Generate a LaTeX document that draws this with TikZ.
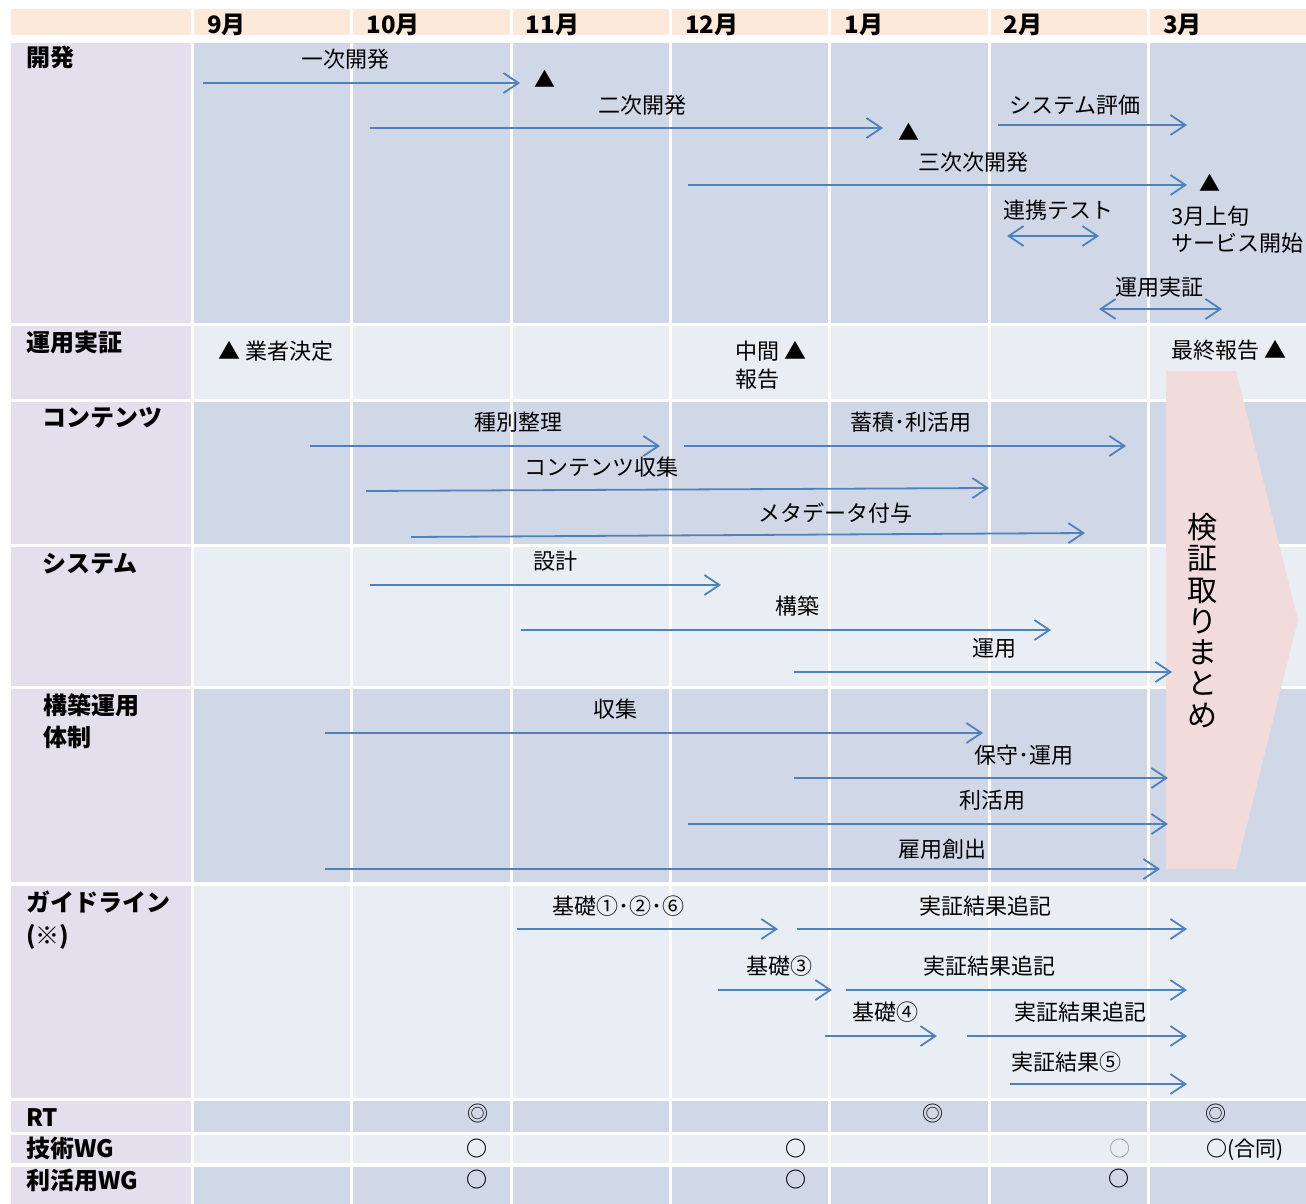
\documentclass[tikz,border=0pt]{standalone}
\usepackage{fontspec}
\setmainfont{Noto Sans CJK JP}
\usetikzlibrary{arrows.meta}
\definecolor{hdr}{HTML}{FDE9D9}
\definecolor{lab}{HTML}{E4DFEC}
\definecolor{dk}{HTML}{D0D8E8}
\definecolor{lt}{HTML}{E9EDF4}
\definecolor{pk}{HTML}{F2DCDB}
\definecolor{bl}{HTML}{4F81BD}
\begin{document}
\begin{tikzpicture}[x=1pt,y=-1pt,
  bar/.style={draw=bl, line width=1.8pt, -{Straight Barb[length=15pt,width=20pt]}},
  dbar/.style={draw=bl, line width=1.8pt, {Straight Barb[length=15pt,width=20pt]}-{Straight Barb[length=15pt,width=20pt]}},
  txt/.style={inner sep=0pt, text height=19.4pt, text depth=2.6pt, font=\fontsize{22}{26}\selectfont},
  lbl/.style={inner sep=0pt, anchor=west, text height=21.1pt, text depth=2.9pt, font=\fontsize{24}{28}\selectfont\bfseries},
  sym/.style={inner sep=0pt, text height=18.5pt, text depth=2.5pt, font=\fontsize{21}{24}\selectfont},
  vt/.style={inner sep=0pt, text height=26.4pt, text depth=3.6pt, font=\fontsize{30}{32}\selectfont}
]
\useasboundingbox (0,0) rectangle (1306,1204);
\fill[white] (0,0) rectangle (1306,1204);
% header
\fill[hdr] (11,9) rectangle (191,35);
\foreach \i in {0,...,6} {
  \pgfmathsetmacro\xa{194+159.3*\i}
  \pgfmathsetmacro\xb{\xa+156.3}
  \fill[hdr] (\xa,9) rectangle (\xb,35);
}
% rows
\foreach \ya/\yb/\c in {43/323/dk,326/399/lt,402/544/dk,547/686/lt,689/882/dk,886/1098/lt,1101/1132/dk,1135/1163/lt,1167/1204/dk} {
  \fill[lab] (11,\ya) rectangle (191,\yb);
  \foreach \i in {0,...,6} {
    \pgfmathsetmacro\xa{194+159.3*\i}
    \pgfmathsetmacro\xb{\xa+156.3}
    \fill[\c] (\xa,\ya) rectangle (\xb,\yb);
  }
}
% pink summary shape
\fill[pk] (1166,371) -- (1236,371) -- (1298,620) -- (1236,869) -- (1166,869) -- cycle;
\foreach \ch [count=\i from 0] in {検,証,取,り,ま,と,め}
  \node[vt] (v\i) at (1202,527+31.3*\i) {\ch};

% header texts
\foreach \m [count=\i from 0] in {9月,10月,11月,12月,1月,2月,3月}
  \node[lbl] (h\i) at (207+159.3*\i,24) {\m};

% row labels
\node[lbl] (r1) at (26,57) {開発};
\node[lbl] (r2) at (26,342) {運用実証};
\node[lbl] (r3) at (42,417) {コンテンツ};
\node[lbl] (r4) at (42,563) {システム};
\node[lbl] (r5a) at (43,705) {構築運用};
\node[lbl] (r5b) at (43,737) {体制};
\node[lbl] (r6a) at (26,902) {ガイドライン};
\node[lbl] (r6b) at (26,935) {(※)};
\node[lbl] (r7) at (26,1117) {RT};
\node[lbl] (r8) at (26,1148) {技術WG};
\node[lbl] (r9) at (26,1180) {利活用WG};

% 開発
\draw[bar] (203,83) -- (520,83);
\node[txt] (t1) at (345,59) {一次開発};
\node[sym] (m1) at (545,80) {▲};
\draw[bar] (370,128) -- (883,128);
\node[txt] (t2) at (642,105) {二次開発};
\node[sym] (m2) at (909,132) {▲};
\draw[bar] (998,125) -- (1187,125);
\node[txt] (t3) at (1075,105) {システム評価};
\draw[bar] (688,185) -- (1187,185);
\node[txt] (t4) at (973,162) {三次次開発};
\node[sym] (m3) at (1210,183) {▲};
\draw[dbar] (1007,236) -- (1099,236);
\node[txt] (t5) at (1058,210) {連携テスト};
\node[txt,anchor=west] (t6a) at (1171,216) {3月上旬};
\node[txt,anchor=west] (t6b) at (1171,243) {サービス開始};
\draw[dbar] (1099,309) -- (1222,309);
\node[txt] (t7) at (1159,287) {運用実証};

% 運用実証
\node[txt,anchor=west] (u1) at (218,351) {▲ 業者決定};
\node[txt,anchor=west] (u2a) at (735,351) {中間 ▲};
\node[txt,anchor=west] (u2b) at (735,379) {報告};
\node[txt,anchor=west] (u3) at (1171,350) {最終報告 ▲};

% コンテンツ
\draw[bar] (310,446) -- (660,446);
\node[txt] (c1) at (518,422) {種別整理};
\draw[bar] (684,446) -- (1126,446);
\node[txt] (c2) at (911,422) {蓄積･利活用};
\draw[bar] (366,491) -- (989,488);
\node[txt] (c3) at (601,467) {コンテンツ収集};
\draw[bar] (411,537) -- (1085,533);
\node[txt] (c4) at (835,513) {メタデータ付与};

% システム
\draw[bar] (370,585) -- (721,585);
\node[txt] (s1) at (555,561) {設計};
\draw[bar] (521,630) -- (1051,630);
\node[txt] (s2) at (797,606) {構築};
\draw[bar] (794,672) -- (1172,672);
\node[txt] (s3) at (994,648) {運用};

% 構築運用体制
\draw[bar] (325,733) -- (983,733);
\node[txt] (k1) at (615,709) {収集};
\draw[bar] (794,778) -- (1168,778);
\node[txt] (k2) at (1024,755) {保守･運用};
\draw[bar] (688,824) -- (1168,824);
\node[txt] (k3) at (992,800) {利活用};
\draw[bar] (325,869) -- (1160,869);
\node[txt] (k4) at (942,849) {雇用創出};

% ガイドライン
\draw[bar] (517,929) -- (778,929);
\node[txt] (g1) at (618,906) {基礎①･②･⑥};
\draw[bar] (797,929) -- (1187,929);
\node[txt] (g2) at (985,906) {実証結果追記};
\draw[bar] (718,990) -- (832,990);
\node[txt] (g3) at (779,966) {基礎③};
\draw[bar] (846,990) -- (1187,990);
\node[txt] (g4) at (989,966) {実証結果追記};
\draw[bar] (825,1036) -- (937,1036);
\node[txt] (g5) at (885,1012) {基礎④};
\draw[bar] (967,1036) -- (1187,1036);
\node[txt] (g6) at (1080,1012) {実証結果追記};
\draw[bar] (1010,1084) -- (1187,1084);
\node[txt] (g7) at (1066,1062) {実証結果⑤};

% meetings
\node[sym] (rt1) at (478,1113) {◎};
\node[sym] (rt2) at (933,1113) {◎};
\node[sym] (rt3) at (1216,1113) {◎};
\node[sym,font=\fontsize{21}{24}\selectfont\bfseries] (w1) at (477,1148) {○};
\node[sym,font=\fontsize{21}{24}\selectfont\bfseries] (w2) at (796,1148) {○};
\node[sym,text=gray!80] (w3) at (1120,1148) {○};
\node[sym,anchor=west] (w4) at (1206,1148) {{\bfseries ○}(合同)};
\node[sym,font=\fontsize{21}{24}\selectfont\bfseries] (p1) at (477,1179) {○};
\node[sym,font=\fontsize{21}{24}\selectfont\bfseries] (p2) at (796,1179) {○};
\node[sym,font=\fontsize{21}{24}\selectfont\bfseries] (p3) at (1119,1178) {○};
\end{tikzpicture}
\end{document}
